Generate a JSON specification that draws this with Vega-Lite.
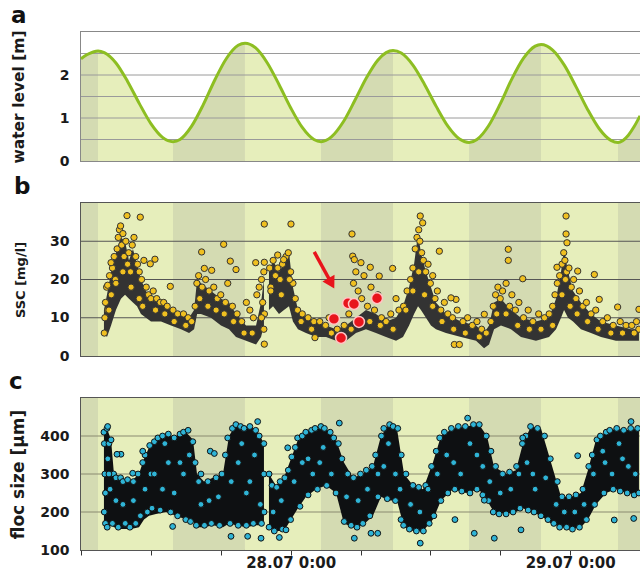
{
"$schema":"https://vega.github.io/schema/vega-lite/v6.json",
"background":"white",
"padding":{"left":8,"top":4,"right":0,"bottom":0},
"spacing":6,
"config":{
 "font":"DejaVu Sans",
 "view":{"stroke":"#555","strokeWidth":2},
 "title":{"anchor":"start","frame":"bounds","font":"DejaVu Sans","fontSize":23,"fontWeight":"bold","color":"#111","offset":-3},
 "axis":{"labelFont":"DejaVu Sans","labelFontWeight":"bold","labelFontSize":14,"labelColor":"#1a1a1a","titleFont":"DejaVu Sans","titleFontWeight":"bold","titleColor":"#1a1a1a","grid":false,"labelOverlap":false}
},
"datasets":{
 "bands":[{"t":6,"t2":7.46,"phase":"flood"},{"t":7.46,"t2":13.9,"phase":"ebb"},{"t":13.9,"t2":20.08,"phase":"flood"},{"t":20.08,"t2":26.61,"phase":"ebb"},{"t":26.61,"t2":32.79,"phase":"flood"},{"t":32.79,"t2":39.32,"phase":"ebb"},{"t":39.32,"t2":45.5,"phase":"flood"},{"t":45.5,"t2":52.11,"phase":"ebb"},{"t":52.11,"t2":54,"phase":"flood"}],
 "tide":[{"t":6,"level":2.38},{"t":6.5,"level":2.47},{"t":7,"level":2.53},{"t":7.46,"level":2.56},{"t":8,"level":2.52},{"t":9,"level":2.28},{"t":10,"level":1.85},{"t":11,"level":1.34},{"t":12,"level":0.87},{"t":13,"level":0.55},{"t":13.9,"level":0.45},{"t":14.5,"level":0.5},{"t":15.5,"level":0.81},{"t":16.5,"level":1.31},{"t":17.5,"level":1.89},{"t":18.5,"level":2.39},{"t":19.5,"level":2.69},{"t":20.08,"level":2.74},{"t":21,"level":2.63},{"t":22,"level":2.28},{"t":23,"level":1.78},{"t":24,"level":1.24},{"t":25,"level":0.78},{"t":26,"level":0.5},{"t":26.61,"level":0.45},{"t":27.5,"level":0.56},{"t":28.5,"level":0.9},{"t":29.5,"level":1.4},{"t":30.5,"level":1.93},{"t":31.5,"level":2.35},{"t":32.2,"level":2.52},{"t":32.79,"level":2.57},{"t":33.5,"level":2.51},{"t":34.5,"level":2.23},{"t":35.5,"level":1.78},{"t":36.5,"level":1.27},{"t":37.5,"level":0.81},{"t":38.5,"level":0.51},{"t":39.32,"level":0.43},{"t":40,"level":0.5},{"t":41,"level":0.82},{"t":42,"level":1.33},{"t":43,"level":1.91},{"t":44,"level":2.39},{"t":45,"level":2.67},{"t":45.5,"level":2.71},{"t":46.5,"level":2.58},{"t":47.5,"level":2.23},{"t":48.5,"level":1.73},{"t":49.5,"level":1.2},{"t":50.5,"level":0.75},{"t":51.5,"level":0.48},{"t":52.11,"level":0.43},{"t":53,"level":0.6},{"t":53.5,"level":0.8},{"t":54,"level":1.05}],
 "gridA":[{"v":0.5},{"v":1},{"v":1.5},{"v":2},{"v":2.5}],
 "gridB":[{"v":10},{"v":20},{"v":30}],
 "gridC":[{"v":200},{"v":300},{"v":400}],
 "sscCore":[{"seg":1,"t":7.97,"lo":6,"hi":12},{"seg":1,"t":8.23,"lo":5,"hi":16},{"seg":1,"t":8.58,"lo":8,"hi":22},{"seg":1,"t":9.0,"lo":12,"hi":27},{"seg":1,"t":9.43,"lo":15,"hi":31},{"seg":1,"t":9.78,"lo":16,"hi":30},{"seg":1,"t":10.12,"lo":15,"hi":25},{"seg":1,"t":10.46,"lo":14,"hi":28},{"seg":1,"t":10.81,"lo":13,"hi":24},{"seg":1,"t":11.15,"lo":11,"hi":20},{"seg":1,"t":11.58,"lo":10,"hi":17},{"seg":1,"t":12.01,"lo":9,"hi":15},{"seg":1,"t":12.87,"lo":9,"hi":14},{"seg":1,"t":13.73,"lo":8,"hi":12},{"seg":1,"t":14.59,"lo":7,"hi":11},{"seg":1,"t":15.28,"lo":6,"hi":10},{"seg":1,"t":15.71,"lo":7,"hi":12},{"seg":1,"t":15.97,"lo":11,"hi":20},{"seg":1,"t":16.3,"lo":11,"hi":19},{"seg":1,"t":17.16,"lo":10,"hi":17},{"seg":1,"t":18.02,"lo":8,"hi":15},{"seg":1,"t":18.71,"lo":7,"hi":14},{"seg":1,"t":19.31,"lo":5,"hi":11},{"seg":1,"t":20.17,"lo":4,"hi":8},{"seg":1,"t":21.03,"lo":3,"hi":8},{"seg":1,"t":21.46,"lo":5,"hi":14},{"seg":1,"t":21.71,"lo":8,"hi":20},
  {"seg":2,"t":22.14,"lo":12,"hi":22},{"seg":2,"t":22.49,"lo":13,"hi":25},{"seg":2,"t":23.0,"lo":11,"hi":22},{"seg":2,"t":23.43,"lo":12,"hi":24},{"seg":2,"t":23.86,"lo":13,"hi":27},{"seg":2,"t":24.2,"lo":9,"hi":18},{"seg":2,"t":24.63,"lo":7,"hi":12},{"seg":2,"t":25.32,"lo":6,"hi":10},{"seg":2,"t":26.18,"lo":5,"hi":9},{"seg":2,"t":27.04,"lo":5,"hi":8},{"seg":2,"t":27.9,"lo":4,"hi":7},{"seg":2,"t":28.76,"lo":4,"hi":8},{"seg":2,"t":29.61,"lo":6,"hi":10},{"seg":2,"t":30.47,"lo":7,"hi":12},{"seg":2,"t":31.33,"lo":6,"hi":11},{"seg":2,"t":32.19,"lo":5,"hi":9},{"seg":2,"t":33.05,"lo":4,"hi":10},{"seg":2,"t":33.65,"lo":5,"hi":13},{"seg":2,"t":34.17,"lo":8,"hi":18},{"seg":2,"t":34.6,"lo":11,"hi":24},{"seg":2,"t":34.94,"lo":13,"hi":32},{"seg":2,"t":35.19,"lo":12,"hi":27},{"seg":2,"t":35.62,"lo":10,"hi":22},{"seg":2,"t":36.05,"lo":8,"hi":18},{"seg":2,"t":36.48,"lo":7,"hi":14},{"seg":2,"t":37.34,"lo":6,"hi":11},{"seg":2,"t":38.63,"lo":5,"hi":9},{"seg":2,"t":39.92,"lo":4,"hi":8},{"seg":2,"t":40.61,"lo":2,"hi":6},{"seg":2,"t":41.04,"lo":3,"hi":8},{"seg":2,"t":41.47,"lo":7,"hi":14},{"seg":2,"t":42.06,"lo":8,"hi":15},{"seg":2,"t":42.92,"lo":7,"hi":12},{"seg":2,"t":43.78,"lo":5,"hi":10},{"seg":2,"t":45.07,"lo":4,"hi":9},{"seg":2,"t":46.19,"lo":5,"hi":10},{"seg":2,"t":46.79,"lo":7,"hi":15},{"seg":2,"t":47.22,"lo":10,"hi":22},{"seg":2,"t":47.48,"lo":12,"hi":28},{"seg":2,"t":47.82,"lo":10,"hi":22},{"seg":2,"t":48.25,"lo":9,"hi":17},{"seg":2,"t":48.93,"lo":7,"hi":14},{"seg":2,"t":49.79,"lo":6,"hi":11},{"seg":2,"t":50.65,"lo":5,"hi":9},{"seg":2,"t":51.94,"lo":4,"hi":8},{"seg":2,"t":53.23,"lo":4,"hi":7},{"seg":2,"t":53.91,"lo":4,"hi":7}],
 "ssc":[{"t":8.0,"v":6},{"t":8.05,"v":10},{"t":8.1,"v":14},{"t":8.2,"v":18},{"t":8.3,"v":12},{"t":8.45,"v":21},{"t":8.6,"v":16},{"t":8.7,"v":23},{"t":8.85,"v":26},{"t":8.95,"v":20},{"t":9.1,"v":28},{"t":9.2,"v":31},{"t":9.3,"v":33},{"t":9.4,"v":34},{"t":9.5,"v":29},{"t":9.6,"v":32},{"t":9.7,"v":26},{"t":9.85,"v":30},{"t":10.0,"v":24},{"t":10.1,"v":27},{"t":10.25,"v":22},{"t":10.4,"v":29},{"t":10.55,"v":31},{"t":10.7,"v":26},{"t":10.85,"v":24},{"t":11.0,"v":22},{"t":11.2,"v":20},{"t":11.4,"v":25},{"t":11.6,"v":18},{"t":11.8,"v":16},{"t":12.0,"v":15},{"t":12.2,"v":17},{"t":12.5,"v":15},{"t":12.8,"v":14},{"t":13.1,"v":14},{"t":13.4,"v":13},{"t":13.9,"v":12},{"t":14.3,"v":11},{"t":14.8,"v":11},{"t":15.2,"v":10},{"t":15.5,"v":9},{"t":15.8,"v":13},{"t":15.95,"v":19},{"t":16.1,"v":21},{"t":16.4,"v":18},{"t":16.7,"v":20},{"t":17.0,"v":17},{"t":17.4,"v":18},{"t":17.7,"v":15},{"t":18.0,"v":16},{"t":18.4,"v":14},{"t":18.6,"v":19},{"t":19.0,"v":13},{"t":19.4,"v":11},{"t":19.8,"v":9},{"t":20.2,"v":14},{"t":20.5,"v":12},{"t":20.8,"v":10},{"t":21.1,"v":16},{"t":21.3,"v":18},{"t":21.5,"v":20},{"t":21.6,"v":14},{"t":21.7,"v":22},{"t":21.75,"v":11},{"t":21.7,"v":7},
  {"t":22.2,"v":23},{"t":22.3,"v":18},{"t":22.5,"v":25},{"t":22.7,"v":21},{"t":22.9,"v":23},{"t":23.1,"v":20},{"t":23.3,"v":24},{"t":23.6,"v":26},{"t":23.8,"v":27},{"t":24.0,"v":22},{"t":24.2,"v":19},{"t":24.4,"v":15},{"t":24.6,"v":12},{"t":25.0,"v":11},{"t":25.5,"v":10},{"t":26.0,"v":9},{"t":26.5,"v":9},{"t":27.0,"v":8},{"t":27.3,"v":10},{"t":28.0,"v":7},{"t":28.6,"v":8},{"t":29.0,"v":11},{"t":29.4,"v":19},{"t":29.6,"v":22},{"t":29.8,"v":17},{"t":30.1,"v":15},{"t":30.3,"v":21},{"t":30.6,"v":13},{"t":30.9,"v":18},{"t":31.2,"v":12},{"t":31.5,"v":16},{"t":31.8,"v":10},{"t":32.2,"v":9},{"t":32.6,"v":11},{"t":33.3,"v":12},{"t":33.7,"v":13},{"t":34.0,"v":17},{"t":34.3,"v":20},{"t":34.5,"v":23},{"t":34.7,"v":28},{"t":34.85,"v":31},{"t":35.0,"v":33},{"t":35.1,"v":30},{"t":35.25,"v":27},{"t":35.4,"v":25},{"t":35.6,"v":22},{"t":35.8,"v":24},{"t":36.0,"v":19},{"t":36.2,"v":21},{"t":36.4,"v":15},{"t":36.6,"v":17},{"t":36.9,"v":12},{"t":37.2,"v":14},{"t":37.5,"v":11},{"t":37.9,"v":10},{"t":38.3,"v":12},{"t":38.8,"v":9},{"t":39.2,"v":10},{"t":39.6,"v":8},{"t":40.0,"v":9},{"t":40.4,"v":7},{"t":40.8,"v":6},{"t":41.2,"v":9},{"t":41.4,"v":13},{"t":41.6,"v":16},{"t":41.8,"v":18},{"t":42.0,"v":15},{"t":42.2,"v":17},{"t":42.5,"v":19},{"t":42.8,"v":13},{"t":43.0,"v":16},{"t":43.3,"v":12},{"t":43.6,"v":14},{"t":44.0,"v":10},{"t":44.4,"v":12},{"t":44.8,"v":9},{"t":45.3,"v":11},{"t":45.8,"v":10},{"t":46.2,"v":11},{"t":46.5,"v":13},{"t":46.7,"v":16},{"t":46.9,"v":19},{"t":47.1,"v":21},{"t":47.3,"v":24},{"t":47.45,"v":27},{"t":47.55,"v":25},{"t":47.7,"v":22},{"t":47.9,"v":23},{"t":48.1,"v":18},{"t":48.3,"v":20},{"t":48.5,"v":15},{"t":48.8,"v":17},{"t":49.1,"v":13},{"t":49.4,"v":14},{"t":49.8,"v":11},{"t":50.2,"v":12},{"t":50.8,"v":9},{"t":51.2,"v":10},{"t":51.7,"v":8},{"t":52.3,"v":9},{"t":52.8,"v":8},{"t":53.3,"v":8},{"t":53.7,"v":9},{"t":53.9,"v":7},
  {"t":9.95,"v":36.7},{"t":11.09,"v":36.3},{"t":8.58,"v":24.4},{"t":8.29,"v":18.5},{"t":12.35,"v":25.3},{"t":11.95,"v":24.1},{"t":13.67,"v":18.2},{"t":16.36,"v":27.2},{"t":16.59,"v":22.9},{"t":17.22,"v":22.4},{"t":18.25,"v":29.2},{"t":18.82,"v":24.8},{"t":19.31,"v":22.6},{"t":21.0,"v":24.4},{"t":21.74,"v":24.5},{"t":21.74,"v":34.5},{"t":24.03,"v":34.5},{"t":22.89,"v":26.4},{"t":23.4,"v":25.2},{"t":21.74,"v":3.1},{"t":26.09,"v":4.8},{"t":29.27,"v":31.9},{"t":29.33,"v":26.1},{"t":29.47,"v":25.2},{"t":30.04,"v":24.4},{"t":30.84,"v":23.2},{"t":31.61,"v":20.9},{"t":32.76,"v":22.9},{"t":33.05,"v":15},{"t":35.13,"v":36.6},{"t":35.34,"v":34.8},{"t":36.77,"v":27.4},{"t":38.2,"v":14.8},{"t":38.06,"v":3},{"t":38.49,"v":3},{"t":40.63,"v":10.9},{"t":42.69,"v":27.9},{"t":42.69,"v":25},{"t":43.93,"v":20.2},{"t":47.65,"v":36.6},{"t":47.65,"v":31.9},{"t":47.73,"v":29.6},{"t":46.87,"v":23.2},{"t":48.65,"v":22.2},{"t":50.08,"v":21.3},{"t":50.5,"v":14.8},{"t":52.08,"v":12.8},{"t":53.91,"v":12.2},{"t":37.77,"v":15.2},
  {"t":8.4,"v":12},{"t":9.0,"v":19},{"t":9.6,"v":22},{"t":10.3,"v":18},{"t":11.0,"v":15},{"t":11.3,"v":13},{"t":12.4,"v":12},{"t":13.2,"v":11},{"t":14.0,"v":9},{"t":15.0,"v":8},{"t":16.2,"v":15},{"t":16.9,"v":13},{"t":17.6,"v":12},{"t":18.3,"v":11},{"t":19.1,"v":9},{"t":20.0,"v":6},{"t":20.7,"v":6},{"t":21.5,"v":10},{"t":22.3,"v":17},{"t":23.2,"v":16},{"t":23.9,"v":20},{"t":24.9,"v":9},{"t":25.8,"v":7},{"t":27.5,"v":6},{"t":29.2,"v":7},{"t":30.0,"v":9},{"t":30.8,"v":9},{"t":31.7,"v":8},{"t":32.8,"v":7},{"t":33.9,"v":12},{"t":34.5,"v":17},{"t":35.0,"v":22},{"t":35.5,"v":16},{"t":36.2,"v":13},{"t":37.0,"v":9},{"t":38.0,"v":7},{"t":39.0,"v":6},{"t":40.2,"v":5},{"t":41.7,"v":11},{"t":42.5,"v":11},{"t":43.5,"v":8},{"t":44.5,"v":7},{"t":45.5,"v":7},{"t":46.5,"v":8},{"t":47.3,"v":16},{"t":47.6,"v":20},{"t":48.0,"v":13},{"t":48.6,"v":11},{"t":49.5,"v":9},{"t":50.4,"v":7},{"t":51.5,"v":6},{"t":52.5,"v":6},{"t":53.5,"v":6}],
 "red":[{"t":28.93,"v":13.8},{"t":29.44,"v":13.6},{"t":31.42,"v":15.1},{"t":27.72,"v":9.7},{"t":29.87,"v":8.9},{"t":28.33,"v":4.7}],
 "arrow":[{"t":26.03,"v":27.2,"tEnd":27.4,"vEnd":19.6}],
 "arrowHead":[{"t":27.5,"v":19.0}],
 "flocCore":[{"seg":1,"t":7.97,"lo":170,"hi":410},{"seg":1,"t":8.23,"lo":160,"hi":420},{"seg":1,"t":8.58,"lo":165,"hi":390},{"seg":1,"t":8.83,"lo":160,"hi":300},{"seg":1,"t":9.43,"lo":155,"hi":290},{"seg":1,"t":10.29,"lo":155,"hi":280},{"seg":1,"t":10.98,"lo":160,"hi":300},{"seg":1,"t":11.41,"lo":180,"hi":340},{"seg":1,"t":11.84,"lo":190,"hi":370},{"seg":1,"t":12.44,"lo":195,"hi":390},{"seg":1,"t":13.3,"lo":200,"hi":400},{"seg":1,"t":14.16,"lo":190,"hi":400},{"seg":1,"t":15.02,"lo":180,"hi":410},{"seg":1,"t":15.62,"lo":175,"hi":390},{"seg":1,"t":15.96,"lo":160,"hi":300},{"seg":1,"t":16.56,"lo":160,"hi":280},{"seg":1,"t":17.33,"lo":165,"hi":290},{"seg":1,"t":18.19,"lo":160,"hi":300},{"seg":1,"t":18.71,"lo":170,"hi":400},{"seg":1,"t":19.31,"lo":165,"hi":430},{"seg":1,"t":20.17,"lo":160,"hi":425},{"seg":1,"t":21.03,"lo":165,"hi":420},{"seg":1,"t":21.71,"lo":165,"hi":380},
  {"seg":2,"t":22.14,"lo":160,"hi":300},{"seg":2,"t":22.74,"lo":150,"hi":270},{"seg":2,"t":23.43,"lo":150,"hi":290},{"seg":2,"t":24.03,"lo":180,"hi":340},{"seg":2,"t":24.63,"lo":210,"hi":390},{"seg":2,"t":25.32,"lo":240,"hi":410},{"seg":2,"t":26.18,"lo":260,"hi":420},{"seg":2,"t":27.04,"lo":270,"hi":420},{"seg":2,"t":27.9,"lo":250,"hi":390},{"seg":2,"t":28.58,"lo":170,"hi":330},{"seg":2,"t":29.36,"lo":160,"hi":290},{"seg":2,"t":30.21,"lo":165,"hi":300},{"seg":2,"t":31.07,"lo":190,"hi":320},{"seg":2,"t":31.76,"lo":240,"hi":400},{"seg":2,"t":32.45,"lo":230,"hi":430},{"seg":2,"t":33.13,"lo":230,"hi":420},{"seg":2,"t":33.74,"lo":160,"hi":300},{"seg":2,"t":34.51,"lo":150,"hi":270},{"seg":2,"t":35.37,"lo":150,"hi":260},{"seg":2,"t":36.22,"lo":180,"hi":330},{"seg":2,"t":36.91,"lo":230,"hi":400},{"seg":2,"t":37.94,"lo":260,"hi":420},{"seg":2,"t":39.06,"lo":250,"hi":425},{"seg":2,"t":40.17,"lo":260,"hi":430},{"seg":2,"t":40.86,"lo":230,"hi":400},{"seg":2,"t":41.46,"lo":200,"hi":320},{"seg":2,"t":42.49,"lo":195,"hi":300},{"seg":2,"t":43.35,"lo":200,"hi":310},{"seg":2,"t":43.95,"lo":210,"hi":380},{"seg":2,"t":44.64,"lo":200,"hi":425},{"seg":2,"t":45.5,"lo":190,"hi":420},{"seg":2,"t":46.36,"lo":170,"hi":330},{"seg":2,"t":47.22,"lo":160,"hi":240},{"seg":2,"t":48.07,"lo":155,"hi":240},{"seg":2,"t":48.93,"lo":160,"hi":250},{"seg":2,"t":49.53,"lo":180,"hi":310},{"seg":2,"t":50.22,"lo":220,"hi":390},{"seg":2,"t":51.08,"lo":250,"hi":410},{"seg":2,"t":51.94,"lo":260,"hi":420},{"seg":2,"t":52.8,"lo":250,"hi":415},{"seg":2,"t":53.91,"lo":245,"hi":420}],
 "floc":[{"t":7.97,"v":410},{"t":8.0,"v":380},{"t":8.05,"v":300},{"t":8.1,"v":250},{"t":8.0,"v":200},{"t":8.1,"v":170},{"t":8.23,"v":420},{"t":8.3,"v":340},{"t":8.25,"v":160},{"t":8.4,"v":380},{"t":8.5,"v":260},{"t":8.58,"v":390},{"t":8.7,"v":170},{"t":8.8,"v":300},{"t":9.0,"v":290},{"t":9.2,"v":160},{"t":9.4,"v":290},{"t":9.6,"v":280},{"t":9.8,"v":170},{"t":10.0,"v":285},{"t":10.2,"v":160},{"t":10.5,"v":280},{"t":10.7,"v":170},{"t":10.9,"v":300},{"t":11.1,"v":190},{"t":11.3,"v":330},{"t":11.5,"v":350},{"t":11.7,"v":200},{"t":11.9,"v":375},{"t":12.1,"v":210},{"t":12.3,"v":385},{"t":12.6,"v":395},{"t":12.8,"v":205},{"t":13.0,"v":400},{"t":13.2,"v":380},{"t":13.5,"v":405},{"t":13.7,"v":200},{"t":14.0,"v":395},{"t":14.3,"v":190},{"t":14.5,"v":405},{"t":14.8,"v":410},{"t":15.0,"v":180},{"t":15.2,"v":415},{"t":15.4,"v":175},{"t":15.6,"v":385},{"t":15.8,"v":330},{"t":15.9,"v":165},{"t":16.1,"v":280},{"t":16.3,"v":300},{"t":16.6,"v":165},{"t":16.9,"v":280},{"t":17.2,"v":170},{"t":17.6,"v":290},{"t":17.9,"v":165},{"t":18.1,"v":300},{"t":18.4,"v":350},{"t":18.6,"v":395},{"t":18.8,"v":170},{"t":19.0,"v":420},{"t":19.3,"v":430},{"t":19.5,"v":165},{"t":19.7,"v":425},{"t":20.0,"v":420},{"t":20.2,"v":165},{"t":20.5,"v":425},{"t":20.8,"v":170},{"t":21.0,"v":415},{"t":21.3,"v":400},{"t":21.5,"v":170},{"t":21.7,"v":380},{"t":21.7,"v":300},{"t":21.72,"v":200},
  {"t":22.15,"v":300},{"t":22.15,"v":160},{"t":22.4,"v":270},{"t":22.6,"v":150},{"t":22.8,"v":265},{"t":23.1,"v":280},{"t":23.3,"v":155},{"t":23.5,"v":290},{"t":23.8,"v":310},{"t":24.0,"v":180},{"t":24.1,"v":345},{"t":24.4,"v":370},{"t":24.6,"v":395},{"t":24.8,"v":215},{"t":25.0,"v":400},{"t":25.3,"v":410},{"t":25.5,"v":245},{"t":25.8,"v":415},{"t":26.1,"v":420},{"t":26.3,"v":260},{"t":26.6,"v":425},{"t":26.9,"v":420},{"t":27.1,"v":270},{"t":27.4,"v":410},{"t":27.7,"v":395},{"t":27.9,"v":250},{"t":28.1,"v":380},{"t":28.4,"v":340},{"t":28.6,"v":175},{"t":28.9,"v":300},{"t":29.2,"v":165},{"t":29.4,"v":290},{"t":29.7,"v":160},{"t":30.0,"v":300},{"t":30.2,"v":170},{"t":30.5,"v":310},{"t":30.8,"v":190},{"t":31.0,"v":320},{"t":31.3,"v":350},{"t":31.5,"v":240},{"t":31.8,"v":400},{"t":32.0,"v":420},{"t":32.3,"v":235},{"t":32.5,"v":430},{"t":32.8,"v":425},{"t":33.0,"v":230},{"t":33.2,"v":420},{"t":33.5,"v":350},{"t":33.7,"v":165},{"t":33.9,"v":300},{"t":34.2,"v":155},{"t":34.5,"v":270},{"t":34.8,"v":150},{"t":35.0,"v":265},{"t":35.4,"v":150},{"t":35.6,"v":270},{"t":35.9,"v":170},{"t":36.1,"v":320},{"t":36.3,"v":190},{"t":36.5,"v":360},{"t":36.8,"v":395},{"t":36.9,"v":230},{"t":37.2,"v":410},{"t":37.5,"v":250},{"t":37.8,"v":420},{"t":38.1,"v":260},{"t":38.4,"v":425},{"t":38.7,"v":255},{"t":39.0,"v":425},{"t":39.4,"v":250},{"t":39.7,"v":430},{"t":40.0,"v":260},{"t":40.2,"v":430},{"t":40.5,"v":245},{"t":40.8,"v":400},{"t":41.0,"v":230},{"t":41.2,"v":360},{"t":41.4,"v":200},{"t":41.6,"v":320},{"t":41.9,"v":195},{"t":42.2,"v":300},{"t":42.5,"v":195},{"t":42.8,"v":305},{"t":43.1,"v":200},{"t":43.4,"v":320},{"t":43.7,"v":210},{"t":43.9,"v":380},{"t":44.2,"v":400},{"t":44.4,"v":205},{"t":44.6,"v":425},{"t":44.9,"v":200},{"t":45.2,"v":420},{"t":45.5,"v":190},{"t":45.8,"v":400},{"t":46.1,"v":180},{"t":46.3,"v":340},{"t":46.6,"v":170},{"t":46.9,"v":280},{"t":47.1,"v":160},{"t":47.3,"v":240},{"t":47.7,"v":160},{"t":47.9,"v":240},{"t":48.2,"v":155},{"t":48.5,"v":245},{"t":48.8,"v":160},{"t":49.1,"v":260},{"t":49.4,"v":180},{"t":49.6,"v":320},{"t":49.9,"v":350},{"t":50.1,"v":220},{"t":50.3,"v":390},{"t":50.6,"v":400},{"t":50.9,"v":250},{"t":51.1,"v":410},{"t":51.4,"v":415},{"t":51.7,"v":260},{"t":52.0,"v":420},{"t":52.3,"v":255},{"t":52.6,"v":415},{"t":52.9,"v":250},{"t":53.2,"v":420},{"t":53.5,"v":245},{"t":53.8,"v":420},{"t":53.9,"v":250},
  {"t":9.0,"v":230},{"t":12.0,"v":300},{"t":13.0,"v":260},{"t":14.5,"v":330},{"t":19.5,"v":330},{"t":20.5,"v":280},{"t":25.5,"v":340},{"t":26.5,"v":330},{"t":32.0,"v":320},{"t":38.0,"v":330},{"t":40.0,"v":350},{"t":44.8,"v":300},{"t":51.0,"v":330},{"t":52.5,"v":340},
  {"t":8.29,"v":425},{"t":9.43,"v":352},{"t":9.09,"v":352},{"t":10.44,"v":302},{"t":11.3,"v":360},{"t":13.87,"v":162},{"t":17.1,"v":360},{"t":17.45,"v":354},{"t":21.17,"v":438},{"t":20.31,"v":136},{"t":21.46,"v":131},{"t":18.88,"v":136},{"t":23.75,"v":369},{"t":23.6,"v":153},{"t":23.03,"v":133},{"t":29.47,"v":131},{"t":30.9,"v":144},{"t":31.48,"v":144},{"t":33.48,"v":180},{"t":35.13,"v":118},{"t":38.11,"v":180},{"t":39.77,"v":144},{"t":41.49,"v":131},{"t":40.63,"v":231},{"t":51.79,"v":179},{"t":53.46,"v":183},{"t":43.78,"v":153},{"t":53.23,"v":438},{"t":39.2,"v":447},{"t":28.18,"v":434},{"t":48.65,"v":348},{"t":43.93,"v":395},
  {"t":8.4,"v":300},{"t":9.6,"v":220},{"t":10.5,"v":230},{"t":11.5,"v":260},{"t":12.3,"v":300},{"t":13.5,"v":330},{"t":14.0,"v":250},{"t":14.8,"v":300},{"t":15.3,"v":350},{"t":16.3,"v":220},{"t":17.0,"v":230},{"t":17.8,"v":240},{"t":18.9,"v":280},{"t":19.8,"v":380},{"t":20.2,"v":250},{"t":20.9,"v":350},{"t":21.4,"v":220},{"t":22.5,"v":200},{"t":23.2,"v":230},{"t":24.3,"v":280},{"t":25.0,"v":330},{"t":25.9,"v":300},{"t":26.8,"v":370},{"t":27.5,"v":300},{"t":28.8,"v":240},{"t":29.8,"v":230},{"t":30.6,"v":260},{"t":31.5,"v":300},{"t":32.4,"v":380},{"t":33.0,"v":300},{"t":33.4,"v":260},{"t":34.3,"v":220},{"t":35.1,"v":200},{"t":35.8,"v":260},{"t":36.6,"v":300},{"t":37.4,"v":350},{"t":38.6,"v":300},{"t":39.4,"v":380},{"t":40.5,"v":320},{"t":41.1,"v":280},{"t":42.0,"v":250},{"t":42.9,"v":260},{"t":43.6,"v":300},{"t":44.3,"v":330},{"t":45.0,"v":260},{"t":45.9,"v":290},{"t":46.8,"v":220},{"t":47.5,"v":200},{"t":48.4,"v":200},{"t":49.2,"v":220},{"t":50.0,"v":300},{"t":50.8,"v":360},{"t":51.6,"v":300},{"t":52.2,"v":380},{"t":53.0,"v":320},{"t":53.6,"v":300}]
},
"vconcat":[
 {
  "title":"a",
  "width":559,"height":129,
  "view":{"stroke":"#888","strokeWidth":2},
  "layer":[
   {"data":{"name":"bands"},"mark":"rect",
    "encoding":{"x":{"field":"t","type":"quantitative","scale":{"domain":[6,54]},"axis":null},"x2":{"field":"t2"},
     "color":{"field":"phase","type":"nominal","scale":{"domain":["flood","ebb"],"range":["#d4dbb2","#e6eebb"]},"legend":null}}},
   {"data":{"name":"tide"},"mark":{"type":"area","color":"white","interpolate":"monotone"},
    "encoding":{"x":{"field":"t","type":"quantitative","scale":{"domain":[6,54]},"axis":null},
     "y":{"field":"level","type":"quantitative","scale":{"domain":[0,3]},"axis":{"values":[0,0.5,1,1.5,2,2.5,3],"labelExpr":"datum.value % 1 == 0 && datum.value < 3 ? format(datum.value, 'd') : ''","ticks":false,"tickSize":0,"domain":false,"labelPadding":12,"title":"water level [m]","titleFontSize":15.5,"titleX":-55,"titleBaseline":"bottom"}},
     "y2":{"datum":3}}},
   {"data":{"name":"gridA"},"mark":{"type":"rule","color":"#9a9a9a","strokeWidth":1},
    "encoding":{"y":{"field":"v","type":"quantitative","scale":{"domain":[0,3]},"axis":{"values":[0,0.5,1,1.5,2,2.5,3],"labelExpr":"datum.value % 1 == 0 && datum.value < 3 ? format(datum.value, 'd') : ''","ticks":false,"tickSize":0,"domain":false,"labelPadding":12,"title":"water level [m]","titleFontSize":15.5,"titleX":-55,"titleBaseline":"bottom"}}}},
   {"data":{"name":"tide"},"mark":{"type":"line","color":"#8dbe22","strokeWidth":3,"interpolate":"monotone"},
    "encoding":{"x":{"field":"t","type":"quantitative","scale":{"domain":[6,54]},"axis":null},
     "y":{"field":"level","type":"quantitative","scale":{"domain":[0,3]},"axis":{"values":[0,0.5,1,1.5,2,2.5,3],"labelExpr":"datum.value % 1 == 0 && datum.value < 3 ? format(datum.value, 'd') : ''","ticks":false,"tickSize":0,"domain":false,"labelPadding":12,"title":"water level [m]","titleFontSize":15.5,"titleX":-55,"titleBaseline":"bottom"}}}}
  ]
 },
 {
  "title":"b",
  "width":559,"height":153,
  "view":{"stroke":"#555","strokeWidth":2},
  "layer":[
   {"data":{"name":"bands"},"mark":"rect",
    "encoding":{"x":{"field":"t","type":"quantitative","scale":{"domain":[6,54]},"axis":null},"x2":{"field":"t2"},
     "color":{"field":"phase","type":"nominal","scale":{"domain":["flood","ebb"],"range":["#d4dbb2","#e6eebb"]},"legend":null}}},
   {"data":{"name":"gridB"},"mark":{"type":"rule","color":"#555","strokeWidth":1},
    "encoding":{"y":{"field":"v","type":"quantitative","scale":{"domain":[0,40]},"axis":{"values":[0,10,20,30,40],"labelExpr":"datum.value < 40 ? datum.label : ''","ticks":false,"tickSize":0,"domain":false,"labelPadding":12,"title":"SSC [mg/l]","titleFontSize":13,"titleX":-54,"titleBaseline":"bottom"}}}},
   {"data":{"name":"sscCore"},"mark":{"type":"area","color":"#333333","opacity":1},
    "encoding":{"x":{"field":"t","type":"quantitative","scale":{"domain":[6,54]},"axis":null},
     "y":{"field":"lo","type":"quantitative","scale":{"domain":[0,40]},"axis":{"values":[0,10,20,30,40],"labelExpr":"datum.value < 40 ? datum.label : ''","ticks":false,"tickSize":0,"domain":false,"labelPadding":12,"title":"SSC [mg/l]","titleFontSize":13,"titleX":-54,"titleBaseline":"bottom"}},
     "y2":{"field":"hi"},"detail":{"field":"seg","type":"nominal"}}},
   {"data":{"name":"ssc"},"mark":{"type":"circle","size":40,"fill":"#f0c020","stroke":"#333333","strokeWidth":1,"opacity":1},
    "encoding":{"x":{"field":"t","type":"quantitative","scale":{"domain":[6,54]},"axis":null},
     "y":{"field":"v","type":"quantitative","scale":{"domain":[0,40]},"axis":{"values":[0,10,20,30,40],"labelExpr":"datum.value < 40 ? datum.label : ''","ticks":false,"tickSize":0,"domain":false,"labelPadding":12,"title":"SSC [mg/l]","titleFontSize":13,"titleX":-54,"titleBaseline":"bottom"}}}},
   {"data":{"name":"arrow"},"mark":{"type":"rule","color":"#e8141c","strokeWidth":3.5},
    "encoding":{"x":{"field":"t","type":"quantitative","scale":{"domain":[6,54]},"axis":null},"x2":{"field":"tEnd"},
     "y":{"field":"v","type":"quantitative","scale":{"domain":[0,40]},"axis":{"values":[0,10,20,30,40],"labelExpr":"datum.value < 40 ? datum.label : ''","ticks":false,"tickSize":0,"domain":false,"labelPadding":12,"title":"SSC [mg/l]","titleFontSize":13,"titleX":-54,"titleBaseline":"bottom"}},"y2":{"field":"vEnd"}}},
   {"data":{"name":"arrowHead"},"mark":{"type":"point","shape":"triangle-down","filled":true,"size":190,"angle":-29,"color":"#e8141c","opacity":1},
    "encoding":{"x":{"field":"t","type":"quantitative","scale":{"domain":[6,54]},"axis":null},
     "y":{"field":"v","type":"quantitative","scale":{"domain":[0,40]},"axis":{"values":[0,10,20,30,40],"labelExpr":"datum.value < 40 ? datum.label : ''","ticks":false,"tickSize":0,"domain":false,"labelPadding":12,"title":"SSC [mg/l]","titleFontSize":13,"titleX":-54,"titleBaseline":"bottom"}}}},
   {"data":{"name":"red"},"mark":{"type":"circle","size":120,"fill":"#e8141c","stroke":"#ffc4c4","strokeWidth":1.5,"opacity":1},
    "encoding":{"x":{"field":"t","type":"quantitative","scale":{"domain":[6,54]},"axis":null},
     "y":{"field":"v","type":"quantitative","scale":{"domain":[0,40]},"axis":{"values":[0,10,20,30,40],"labelExpr":"datum.value < 40 ? datum.label : ''","ticks":false,"tickSize":0,"domain":false,"labelPadding":12,"title":"SSC [mg/l]","titleFontSize":13,"titleX":-54,"titleBaseline":"bottom"}}}}
  ]
 },
 {
  "title":"c",
  "width":559,"height":152,
  "view":{"stroke":"#555","strokeWidth":2},
  "layer":[
   {"data":{"name":"bands"},"mark":"rect",
    "encoding":{"x":{"field":"t","type":"quantitative","scale":{"domain":[6,54]},"axis":{"values":[6,12,18,24,30,36,42,48,54],"labelExpr":"datum.value == 24 ? '28.07 0:00' : datum.value == 48 ? '29.07 0:00' : ''","title":null,"tickSize":5,"tickColor":"#333","domainColor":"#555","labelFontSize":15,"labelPadding":0,"zindex":1}},"x2":{"field":"t2"},
     "color":{"field":"phase","type":"nominal","scale":{"domain":["flood","ebb"],"range":["#d4dbb2","#e6eebb"]},"legend":null}}},
   {"data":{"name":"gridC"},"mark":{"type":"rule","color":"#8a8a70","strokeWidth":1},
    "encoding":{"y":{"field":"v","type":"quantitative","scale":{"domain":[100,500]},"axis":{"values":[100,200,300,400,500],"labelExpr":"datum.value < 500 ? datum.label : ''","ticks":false,"tickSize":0,"domain":false,"labelPadding":12,"title":"floc size [µm]","titleFontSize":17,"titleX":-54,"titleBaseline":"bottom"}}}},
   {"data":{"name":"flocCore"},"mark":{"type":"area","color":"#0e1012","opacity":1},
    "encoding":{"x":{"field":"t","type":"quantitative","scale":{"domain":[6,54]},"axis":{"values":[6,12,18,24,30,36,42,48,54],"labelExpr":"datum.value == 24 ? '28.07 0:00' : datum.value == 48 ? '29.07 0:00' : ''","title":null,"tickSize":5,"tickColor":"#333","domainColor":"#555","labelFontSize":15,"labelPadding":0,"zindex":1}},
     "y":{"field":"lo","type":"quantitative","scale":{"domain":[100,500]},"axis":{"values":[100,200,300,400,500],"labelExpr":"datum.value < 500 ? datum.label : ''","ticks":false,"tickSize":0,"domain":false,"labelPadding":12,"title":"floc size [µm]","titleFontSize":17,"titleX":-54,"titleBaseline":"bottom"}},
     "y2":{"field":"hi"},"detail":{"field":"seg","type":"nominal"}}},
   {"data":{"name":"floc"},"mark":{"type":"circle","size":34,"fill":"#2fb4d6","stroke":"#111111","strokeWidth":1,"opacity":1},
    "encoding":{"x":{"field":"t","type":"quantitative","scale":{"domain":[6,54]},"axis":{"values":[6,12,18,24,30,36,42,48,54],"labelExpr":"datum.value == 24 ? '28.07 0:00' : datum.value == 48 ? '29.07 0:00' : ''","title":null,"tickSize":5,"tickColor":"#333","domainColor":"#555","labelFontSize":15,"labelPadding":0,"zindex":1}},
     "y":{"field":"v","type":"quantitative","scale":{"domain":[100,500]},"axis":{"values":[100,200,300,400,500],"labelExpr":"datum.value < 500 ? datum.label : ''","ticks":false,"tickSize":0,"domain":false,"labelPadding":12,"title":"floc size [µm]","titleFontSize":17,"titleX":-54,"titleBaseline":"bottom"}}}}
  ]
 }
]
}
